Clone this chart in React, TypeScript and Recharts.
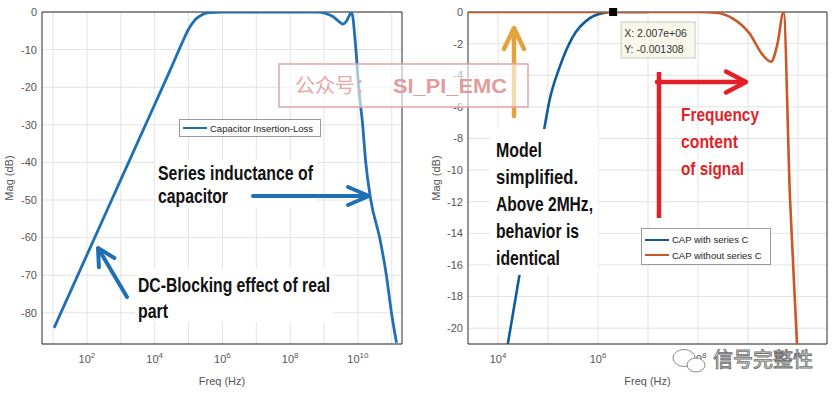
import React from 'react';
import { LineChart, Line, XAxis, YAxis, CartesianGrid, Legend, ReferenceArea, ReferenceDot } from 'recharts';

// left panel: capacitor insertion loss (Hz, dB)
const lossName = 'Capacitor Insertion-Loss';
const lossFreq = [10.7, 100, 1000, 1e4, 3.16e4, 6.31e4, 1e5, 1.58e5, 2.51e5, 3.98e5, 1e6, 1e7, 1e8, 6.31e8,
  1.12e9, 1.82e9, 2.82e9, 3.55e9, 4.47e9, 5.25e9, 6.46e9, 8.71e9, 1.05e10, 1.38e10, 1.7e10, 2.4e10,
  4.37e10, 6.92e10, 9.77e10, 1.38e11];
const lossMag = [-84, -64.6, -44.6, -24.6, -14.6, -8.4, -4.6, -2.0, -0.7, -0.15, 0, 0, 0, 0,
  -0.4, -1.2, -2.6, -3.2, -2.6, -1.4, 0, -10, -20, -30, -40, -50,
  -60, -70, -80, -88];
const leftXTicks = [1e1, 1e2, 1e3, 1e4, 1e5, 1e6, 1e7, 1e8, 1e9, 1e10, 1e11];
const leftYTicks = [-80, -70, -60, -50, -40, -30, -20, -10, 0];
const leftXDomain = [4.71, 2.0e11];
const leftYDomain = [-88.3, 0];

// right panel: with / without series C
const withCName = 'CAP with series C';
const withCFreq = [1.26e4, 2.57e4, 8.51e4, 1.07e5, 1.7e5, 3.09e5, 6.76e5, 1.23e6, 2.0e6, 1e7];
const withCMag = [-22.8, -17.0, -7.3, -5.6, -3.5, -1.6, -0.4, -0.08, -0.0013, 0];
const withoutCName = 'CAP without series C';
const withoutCFreq = [2512, 1e5, 1e7, 1e8, 2.29e8, 4.9e8, 1.07e9, 1.95e9, 2.88e9, 3.89e9, 5.13e9, 6.92e9, 9.55e9, 1.15e10];
const withoutCMag = [0, 0, 0, 0, -0.05, -0.4, -1.35, -2.7, -3.15, -2.0, 0, -11.8, -21, -27];
const rightXTicks = [1e4, 1e5, 1e6, 1e7, 1e8, 1e9, 1e10];
const rightYTicks = [-20, -18, -16, -14, -12, -10, -8, -6, -4, -2, 0];
const rightXDomain = [2512, 3.8e10];
const rightYDomain = [-21, 0];
const tipFreq = 2.007e6;
const tipMag = -0.001308;

const lossData = lossFreq.map((f, i) => ({ f, mag: lossMag[i] }));
const withCData = withCFreq.map((f, i) => ({ f, mag: withCMag[i] }));
const withoutCData = withoutCFreq.map((f, i) => ({ f, mag: withoutCMag[i] }));

const AXIS_FONT = "'Liberation Sans', Arial, sans-serif";
const NOTE_FONT = "'Liberation Sans Narrow', 'Liberation Sans', Arial, sans-serif";
const TICK_COLOR = '#555';
const GRID = '#e3e3e3';

// plot boxes (page px), must agree with the chart margins below
const LEFT_PLOT = { x: 42, w: 360 };
const RIGHT_PLOT = { x: 468, w: 359 };
const PLOT_TOP = 12;
const PLOT_BOTTOM = 344;

const fmtExp = (v: number) => {
  const [m, e] = v.toExponential(3).split('e');
  const n = Number(e);
  return `${m}e${n < 0 ? '-' : '+'}${String(Math.abs(n)).padStart(2, '0')}`;
};

const logX = (t: number, dom: number[], box: { x: number; w: number }) =>
  box.x + ((Math.log10(t) - Math.log10(dom[0])) / (Math.log10(dom[1]) - Math.log10(dom[0]))) * box.w;

const PowTick = (props: any) => {
  const { x, y, payload } = props;
  const e = Math.round(Math.log10(payload.value));
  if (e % 2 !== 0) return <g />;
  return (
    <text x={x} y={y + 19} textAnchor="middle" fontSize={11} fill={TICK_COLOR} stroke="none" fontFamily={AXIS_FONT}>
      10<tspan dy={-5} fontSize={8}>{e}</tspan>
    </text>
  );
};

const YTitle = (props: any) => {
  const { viewBox, dx } = props;
  const cy = viewBox.y + viewBox.height / 2;
  return (
    <text transform={`translate(${viewBox.x + dx},${cy}) rotate(-90)`} textAnchor="middle" dominantBaseline="central"
      fontSize={11} fill={TICK_COLOR} fontFamily={AXIS_FONT}>Mag (dB)</text>
  );
};

const XTitle = (props: any) => {
  const { viewBox } = props;
  return (
    <text x={viewBox.x + viewBox.width / 2} y={viewBox.y + 41} textAnchor="middle"
      fontSize={11} fill={TICK_COLOR} fontFamily={AXIS_FONT}>Freq (Hz)</text>
  );
};

const LegendBox = ({ payload, w, h }: any) => (
  <div style={{
    width: w, height: h, boxSizing: 'border-box', border: '1px solid #9a9a9a', background: '#fff',
    paddingTop: payload.length > 1 ? 3 : 0, fontFamily: AXIS_FONT, fontSize: 9.5, color: '#222',
  }}>
    {payload.map((it: any) => (
      <div key={it.value} style={{ display: 'flex', alignItems: 'center', height: payload.length > 1 ? 15.5 : h - 2, paddingLeft: 3, whiteSpace: 'nowrap' }}>
        <span style={{ display: 'inline-block', width: 24, borderTop: `2.5px solid ${it.color}`, marginRight: 3 }} />
        {it.value}
      </div>
    ))}
  </div>
);

const TipShape = (props: any) => {
  const { cx, cy } = props;
  return (
    <g>
      <rect x={cx - 4} y={cy - 4} width={8} height={8} fill="#000" />
      <rect x={cx + 8} y={cy + 10} width={74} height={36} fill="#f7f7ec" stroke="#c9c9be" />
      <text x={cx + 11} y={cy + 24.5} fontSize={10.5} fill="#333" fontFamily={AXIS_FONT}>X: {fmtExp(tipFreq)}</text>
      <text x={cx + 11} y={cy + 41} fontSize={10.5} fill="#333" fontFamily={AXIS_FONT}>Y: {String(tipMag)}</text>
    </g>
  );
};

const Arrow = ({ x1, y1, x2, y2, color, w = 4, head = 20, spread = 9 }: any) => {
  const a = Math.atan2(y2 - y1, x2 - x1);
  const bx = x2 - head * Math.cos(a);
  const by = y2 - head * Math.sin(a);
  const px = -Math.sin(a) * spread;
  const py = Math.cos(a) * spread;
  return (
    <g stroke={color} strokeWidth={w} fill="none" strokeLinecap="round" strokeLinejoin="round">
      <line x1={x1} y1={y1} x2={x2 - 2 * Math.cos(a)} y2={y2 - 2 * Math.sin(a)} />
      <polyline points={`${bx + px},${by + py} ${x2},${y2} ${bx - px},${by - py}`} />
    </g>
  );
};

const Note = ({ x, y, len, children, color = '#111', size = 20 }: any) => (
  <text x={x} y={y} fontSize={size} fontWeight="bold" fill={color} fontFamily={NOTE_FONT}
    textLength={len} lengthAdjust="spacingAndGlyphs">{children}</text>
);

const BLUE_L = '#1f6fb4';
const BLUE_R = '#0d5c9e';
const ORANGE = '#cb5725';
const RED = '#e41f27';

export default function App() {
  return (
    <div style={{ position: 'absolute', left: 0, top: 0, width: 836, height: 394, background: '#fff', overflow: 'hidden' }}>
      {/* vertical decade grid, under the charts */}
      <svg width={836} height={394} style={{ position: 'absolute', left: 0, top: 0 }}>
        {leftXTicks.map((t) => {
          const x = logX(t, leftXDomain, LEFT_PLOT);
          return <line key={`l${t}`} x1={x} x2={x} y1={PLOT_TOP} y2={PLOT_BOTTOM} stroke={GRID} />;
        })}
        {rightXTicks.map((t) => {
          const x = logX(t, rightXDomain, RIGHT_PLOT);
          return <line key={`r${t}`} x1={x} x2={x} y1={PLOT_TOP} y2={PLOT_BOTTOM} stroke={GRID} />;
        })}
      </svg>

      <div style={{ position: 'absolute', left: 0, top: 0 }}>
        <LineChart width={416} height={394} data={lossData} margin={{ top: 12, right: 14, bottom: 20, left: 0 }}>
          <CartesianGrid stroke={GRID} vertical={false} />
          <XAxis dataKey="f" type="number" scale="log" domain={leftXDomain} allowDataOverflow ticks={leftXTicks}
            interval={0} tick={PowTick} tickSize={0} tickMargin={0} axisLine={false} tickLine={false} height={30}
            label={<XTitle />} />
          <YAxis type="number" domain={leftYDomain} allowDataOverflow ticks={leftYTicks} width={42} interval={0}
            tick={{ fontSize: 11, fill: TICK_COLOR, fontFamily: AXIS_FONT }} tickSize={0} tickMargin={5}
            axisLine={false} tickLine={false} label={<YTitle dx={9} />} />
          <ReferenceArea x1={leftXDomain[0]} x2={leftXDomain[1]} y1={leftYDomain[0]} y2={leftYDomain[1]} fill="none" stroke="#2b2b2b" strokeWidth={1} ifOverflow="visible" />
          <Line type="monotone" dataKey="mag" name={lossName} stroke={BLUE_L} strokeWidth={2.8} dot={false} isAnimationActive={false} />
          <Legend layout="vertical" align="center" verticalAlign="middle"
            wrapperStyle={{ left: 179, top: 119, width: 142, height: 18 }}
            content={(p: any) => <LegendBox payload={p.payload || []} w={142} h={18} />} />
        </LineChart>
      </div>

      <div style={{ position: 'absolute', left: 416, top: 0 }}>
        <LineChart width={420} height={394} margin={{ top: 12, right: 9, bottom: 20, left: 0 }}>
          <CartesianGrid stroke={GRID} vertical={false} />
          <XAxis dataKey="f" type="number" scale="log" domain={rightXDomain} allowDataOverflow ticks={rightXTicks}
            interval={0} tick={PowTick} tickSize={0} tickMargin={0} axisLine={false} tickLine={false} height={30}
            label={<XTitle />} />
          <YAxis type="number" domain={rightYDomain} allowDataOverflow ticks={rightYTicks} width={52} interval={0}
            tick={{ fontSize: 11, fill: TICK_COLOR, fontFamily: AXIS_FONT }} tickSize={0} tickMargin={5}
            axisLine={false} tickLine={false} label={<YTitle dx={20} />} />
          <ReferenceArea x1={rightXDomain[0]} x2={rightXDomain[1]} y1={rightYDomain[0]} y2={rightYDomain[1]} fill="none" stroke="#2b2b2b" strokeWidth={1} ifOverflow="visible" />
          <Line data={withCData} type="monotone" dataKey="mag" name={withCName} stroke={BLUE_R} strokeWidth={2.6} dot={false} isAnimationActive={false} />
          <Line data={withoutCData} type="monotone" dataKey="mag" name={withoutCName} stroke={ORANGE} strokeWidth={2.6} dot={false} isAnimationActive={false} />
          <ReferenceDot x={tipFreq} y={tipMag} r={4} shape={TipShape} ifOverflow="visible" />
          <Legend layout="vertical" align="center" verticalAlign="middle"
            wrapperStyle={{ left: 225, top: 228, width: 130, height: 37 }}
            content={(p: any) => <LegendBox payload={p.payload || []} w={130} h={37} />} />
        </LineChart>
      </div>

      <svg width={836} height={394} style={{ position: 'absolute', left: 0, top: 0, pointerEvents: 'none' }}>
        {/* left annotations */}
        <rect x={155} y={160} width={162} height={48} fill="#fff" />
        <Note x={158} y={180} len={155} size={21}>Series inductance of</Note>
        <Note x={158} y={203} len={70} size={21}>capacitor</Note>
        <Arrow x1={253} y1={196} x2={369} y2={196} color={BLUE_L} w={4} head={21} spread={9} />
        <rect x={135} y={268} width={198} height={54} fill="#fff" />
        <Note x={138} y={292} len={192} size={21}>DC-Blocking effect of real</Note>
        <Note x={138} y={318} len={30} size={21}>part</Note>
        <Arrow x1={127} y1={297} x2={98} y2={248} color={BLUE_L} w={4} head={17} spread={9} />

        {/* right annotations */}
        <rect x={490} y={129} width={108} height={146} fill="#fff" />
        <Note x={496} y={157} len={46}>Model</Note>
        <Note x={496} y={184} len={82}>simplified.</Note>
        <Note x={496} y={211} len={97}>Above 2MHz,</Note>
        <Note x={496} y={238} len={83}>behavior is</Note>
        <Note x={496} y={265} len={64}>identical</Note>
        <Arrow x1={514} y1={116} x2={514} y2={28} color="#e3a23c" w={4.5} head={21} spread={10} />

        <line x1={659} y1={218} x2={659} y2={72} stroke={RED} strokeWidth={4.5} />
        <Arrow x1={657} y1={82} x2={746} y2={82} color={RED} w={4.5} head={20} spread={10.5} />
        <Note x={681} y={121} len={78} color={RED} size={19}>Frequency</Note>
        <Note x={681} y={148} len={57} color={RED} size={19}>content</Note>
        <Note x={681} y={175} len={63} color={RED} size={19}>of signal</Note>

        {/* watermarks */}
        <rect x={279} y={64} width={249} height={43} fill="rgba(255,255,255,0.6)" stroke="#e2a4a4" strokeWidth={1.5} />
        <text x={295} y={93} fontSize={20} fill="#e8a8a8" fontFamily="'Noto Sans CJK SC', sans-serif">公众号：</text>
        <text x={393} y={93} fontSize={21} fontWeight="bold" fill="#e39c9c" fontFamily={AXIS_FONT}
          textLength={114} lengthAdjust="spacingAndGlyphs">SI_PI_EMC</text>

        <rect x={708} y={348} width={106} height={26} fill="#fff" />
        <g stroke="#8a8a8a" strokeWidth={1} fill="#fff">
          <ellipse cx={684} cy={358} rx={11} ry={8.5} />
          <ellipse cx={696} cy={365} rx={9} ry={7} />
        </g>
        <text x={713} y={367} fontSize={20} fill="#fff" stroke="#6e6e6e" strokeWidth={0.9}
          fontFamily="'Noto Sans CJK SC', sans-serif">信号完整性</text>
      </svg>
    </div>
  );
}
